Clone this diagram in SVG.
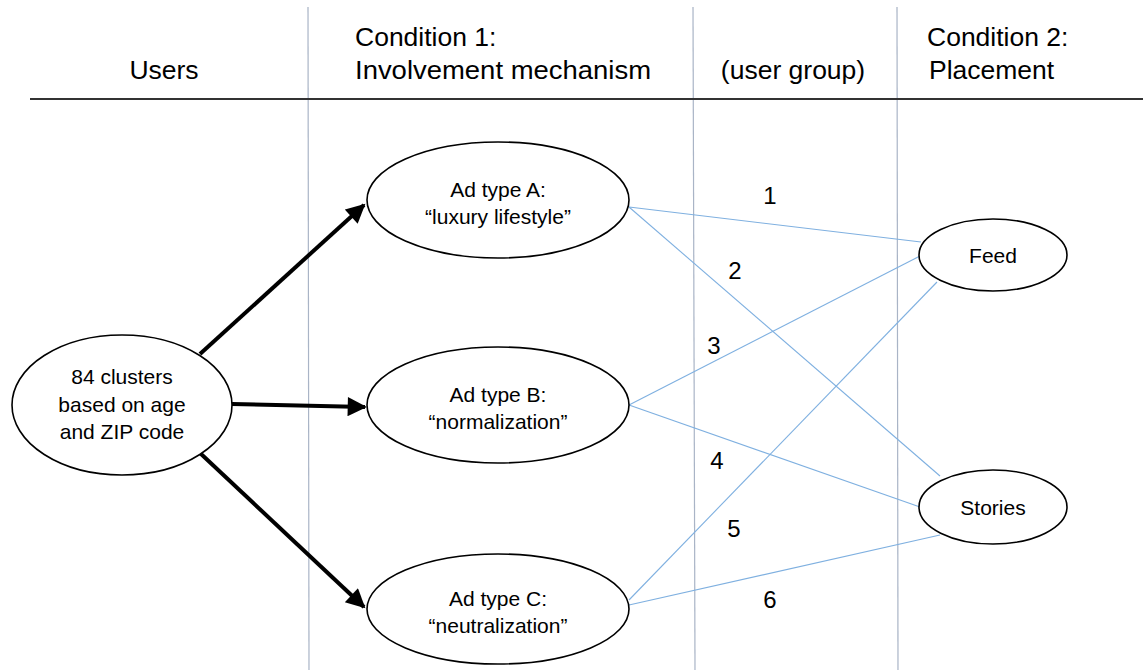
<svg xmlns="http://www.w3.org/2000/svg" width="1143" height="670" viewBox="0 0 1143 670">
  <defs>
    <style>
      text { font-family: "Liberation Sans", Arial, sans-serif; fill: #000; }
      .hdr { font-size: 26.5px; }
      .lbl { font-size: 21px; text-anchor: middle; }
      .num { font-size: 24px; text-anchor: middle; }
      .node { fill: #fff; stroke: #000; stroke-width: 1.6; }
      .col { stroke: #a9b4c6; stroke-width: 1.2; fill: none; }
      .arrow { stroke: #000; stroke-width: 4; fill: none; marker-end: url(#head); }
      .link { stroke: #7fb0e0; stroke-width: 1.1; fill: none; }
    </style>
    <marker id="head" viewBox="0 0 10 10" refX="9" refY="5" markerWidth="5.2" markerHeight="4.8" markerUnits="strokeWidth" orient="auto">
      <path d="M0,0 L10,5 L0,10 Z" fill="#000"/>
    </marker>
  </defs>

  <rect width="1143" height="670" fill="#fff"/>

  <!-- column separators and header rule -->
  <g id="grid">
    <line class="col" x1="308" y1="7" x2="309" y2="670"/>
    <line class="col" x1="693" y1="7" x2="695" y2="670"/>
    <line class="col" x1="897" y1="7" x2="898" y2="670"/>
    <line x1="30" y1="99" x2="1143" y2="99" stroke="#333" stroke-width="2"/>
  </g>

  <!-- column headings -->
  <g id="headings">
    <text class="hdr" x="164" y="79" text-anchor="middle">Users</text>
    <text class="hdr" x="355" y="46">Condition 1:</text>
    <text class="hdr" x="355" y="79" textLength="296" lengthAdjust="spacingAndGlyphs">Involvement mechanism</text>
    <text class="hdr" x="793" y="79" text-anchor="middle">(user group)</text>
    <text class="hdr" x="927" y="46">Condition 2:</text>
    <text class="hdr" x="929" y="79">Placement</text>
  </g>

  <!-- connectors -->
  <g id="connectors">
    <line class="arrow" x1="200" y1="354" x2="364" y2="205"/>
    <line class="arrow" x1="232" y1="404" x2="365" y2="407"/>
    <line class="arrow" x1="200" y1="453" x2="364" y2="607"/>

    <line class="link" x1="629" y1="207" x2="921" y2="242"/>
    <line class="link" x1="629" y1="207" x2="940" y2="476"/>
    <line class="link" x1="629" y1="405" x2="920" y2="256"/>
    <line class="link" x1="629" y1="405" x2="920" y2="507"/>
    <line class="link" x1="629" y1="600" x2="937" y2="282"/>
    <line class="link" x1="629" y1="605" x2="940" y2="535"/>
  </g>

  <!-- user-group numbers -->
  <g id="group-numbers">
    <text class="num" x="770" y="204">1</text>
    <text class="num" x="735" y="279">2</text>
    <text class="num" x="714" y="354">3</text>
    <text class="num" x="717" y="469">4</text>
    <text class="num" x="734" y="537">5</text>
    <text class="num" x="770" y="608">6</text>
  </g>

  <g id="node-users">
    <ellipse class="node" cx="122" cy="405" rx="110" ry="70"/>
    <text class="lbl" x="122" y="384">84 clusters</text>
    <text class="lbl" x="122" y="412">based on age</text>
    <text class="lbl" x="122" y="439">and ZIP code</text>
  </g>

  <g id="node-ad-a">
    <ellipse class="node" cx="498" cy="200" rx="131" ry="58"/>
    <text class="lbl" x="498" y="197">Ad type A:</text>
    <text class="lbl" x="498" y="224">“luxury lifestyle”</text>
  </g>

  <g id="node-ad-b">
    <ellipse class="node" cx="498" cy="405" rx="131" ry="58"/>
    <text class="lbl" x="498" y="402">Ad type B:</text>
    <text class="lbl" x="498" y="429">“normalization”</text>
  </g>

  <g id="node-ad-c">
    <ellipse class="node" cx="498" cy="609" rx="131" ry="55"/>
    <text class="lbl" x="498" y="606">Ad type C:</text>
    <text class="lbl" x="498" y="633">“neutralization”</text>
  </g>

  <g id="node-feed">
    <ellipse class="node" cx="993" cy="255" rx="74" ry="36"/>
    <text class="lbl" x="993" y="263">Feed</text>
  </g>

  <g id="node-stories">
    <ellipse class="node" cx="993" cy="507" rx="74" ry="37"/>
    <text class="lbl" x="993" y="515">Stories</text>
  </g>
</svg>
